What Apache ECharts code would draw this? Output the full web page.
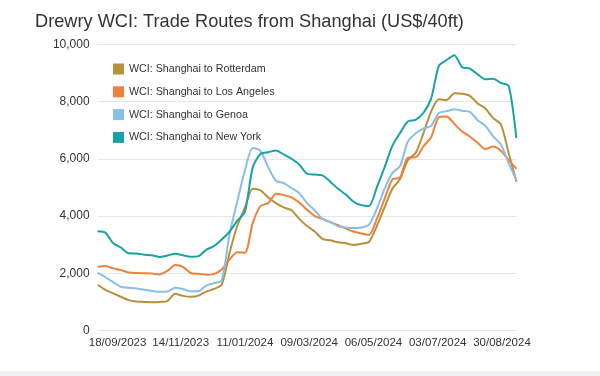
<!DOCTYPE html>
<html>
<head>
<meta charset="utf-8">
<script src="https://cdn.jsdelivr.net/npm/echarts@6/dist/echarts.min.js"></script>
<style>
html,body{margin:0;padding:0;background:#ffffff;}
#chart{width:600px;height:376px;}
</style>
</head>
<body>
<div id="chart"></div>
<script>
// Weekly Drewry WCI dates (Thursdays)
const dates = [
  '2023-08-31','2023-09-07','2023-09-14','2023-09-21','2023-09-28','2023-10-05','2023-10-12','2023-10-19','2023-10-26',
  '2023-11-02','2023-11-09','2023-11-16','2023-11-23','2023-11-30','2023-12-07','2023-12-14','2023-12-21','2023-12-28',
  '2024-01-04','2024-01-11','2024-01-18','2024-01-25','2024-02-01','2024-02-08','2024-02-15','2024-02-22','2024-02-29',
  '2024-03-07','2024-03-14','2024-03-21','2024-03-28','2024-04-04','2024-04-11','2024-04-18','2024-04-25','2024-05-02',
  '2024-05-09','2024-05-16','2024-05-23','2024-05-30','2024-06-06','2024-06-13','2024-06-20','2024-06-27','2024-07-04',
  '2024-07-11','2024-07-18','2024-07-25','2024-08-01','2024-08-08','2024-08-15','2024-08-22','2024-08-29','2024-09-05',
  '2024-09-12'
];

const rotterdam = [
  1600,1420,1300,1180,1060,1010,1000,990,1000,
  1030,1280,1210,1180,1220,1360,1450,1600,2700,
  3650,4300,4950,4900,4650,4450,4300,4200,3900,
  3650,3460,3200,3150,3080,3050,2990,3030,3100,
  3650,4300,4950,5290,5950,6200,6880,7650,8080,
  8050,8290,8270,8200,7930,7760,7420,7200,6200,
  5200
];
const losAngeles = [
  2230,2255,2170,2110,2030,2010,2000,1990,1960,
  2080,2290,2220,2010,1980,1950,1970,2130,2480,
  2730,2720,3750,4350,4450,4780,4730,4650,4470,
  4220,4000,3900,3780,3680,3560,3460,3390,3340,
  3900,4600,5270,5350,6040,6050,6430,6750,7450,
  7480,7220,6950,6780,6560,6340,6430,6280,5950,
  5650
];
const genoa = [
  2020,1860,1690,1530,1490,1470,1420,1380,1350,
  1360,1490,1450,1370,1370,1570,1650,1750,3350,
  4500,5600,6380,6280,5700,5230,5150,4980,4800,
  4450,4200,3900,3800,3640,3600,3580,3600,3700,
  4250,4950,5500,5750,6600,6880,7050,7150,7600,
  7660,7730,7680,7640,7350,7150,6780,6500,5850,
  5250
];
const newYork = [
  3470,3420,3050,2900,2700,2690,2650,2630,2570,
  2620,2680,2630,2580,2600,2820,2950,3180,3450,
  3830,4150,5700,6170,6230,6290,6150,6000,5800,
  5480,5450,5420,5200,4950,4750,4500,4380,4350,
  5000,5700,6450,6900,7300,7360,7600,8100,9250,
  9450,9620,9200,9150,8950,8780,8800,8650,8550,
  6720
];

const seriesNames = ['WCI: Shanghai to Rotterdam','WCI: Shanghai to Los Angeles','WCI: Shanghai to Genoa','WCI: Shanghai to New York'];
const seriesColors = ['#b8903c','#f0803c','#89bfe6','#17a3a5'];
const tickDates = ['2023-09-18','2023-11-14','2024-01-11','2024-03-09','2024-05-06','2024-07-03','2024-08-30'];
const yTicks = {min: 0, max: 10000, interval: 2000};

function utc(s){ const p = s.split('-'); return Date.UTC(+p[0], +p[1]-1, +p[2]); }
function pad(n){ return (n<10?'0':'') + n; }

const values = [rotterdam, losAngeles, genoa, newYork];
const chart = echarts.init(document.getElementById('chart'), null, {renderer:'canvas'});
const fontFamily = '"Liberation Sans", Arial, Helvetica, sans-serif';

chart.setOption({
  animation: false,
  backgroundColor: '#ffffff',
  textStyle: {fontFamily: fontFamily},
  title: {
    text: 'Drewry WCI: Trade Routes from Shanghai (US$/40ft)',
    left: 30, top: 8,
    textStyle: {fontSize: 18.2, fontWeight: 'normal', color: '#333333', fontFamily: fontFamily}
  },
  legend: {
    orient: 'vertical',
    left: 113, top: 63.5,
    padding: 0,
    itemWidth: 11, itemHeight: 11, itemGap: 11.8,
    icon: 'rect',
    textStyle: {fontSize: 10.7, color: '#333333', fontFamily: fontFamily},
    data: seriesNames
  },
  grid: {left: 97.6, right: 83.6, top: 44.3, bottom: 45.5, containLabel: false},
  xAxis: {
    type: 'value',
    min: utc(dates[0]),
    max: utc(dates[dates.length-1]),
    axisLine: {show: false},
    axisTick: {show: false},
    splitLine: {show: false},
    axisLabel: {
      customValues: tickDates.map(utc),
      fontSize: 11.5, color: '#333333', margin: 6,
      hideOverlap: false,
      showMinLabel: true, showMaxLabel: true,
      formatter: function(v){ const d = new Date(v); return pad(d.getUTCDate()) + '/' + pad(d.getUTCMonth()+1) + '/' + d.getUTCFullYear(); }
    }
  },
  yAxis: {
    type: 'value',
    min: yTicks.min, max: yTicks.max, interval: yTicks.interval,
    axisLine: {show: false},
    axisTick: {show: false},
    splitLine: {lineStyle: {color: '#e6e6e6', width: 1}},
    axisLabel: {
      fontSize: 12, color: '#333333', margin: 8,
      formatter: function(v){ return v.toLocaleString('en-US'); }
    }
  },
  graphic: [{
    type: 'rect', left: 0, top: 371, shape: {width: 600, height: 5},
    style: {fill: '#eff1f4'}, silent: true, z: 100
  }],
  series: seriesNames.map(function(name, k){
    return {
      name: name,
      type: 'line',
      data: dates.map(function(d, i){ return [utc(d), values[k][i]]; }),
      showSymbol: false,
      smooth: 0.25,
      lineStyle: {width: 2, color: seriesColors[k]},
      itemStyle: {color: seriesColors[k]}
    };
  })
});
</script>
</body>
</html>
